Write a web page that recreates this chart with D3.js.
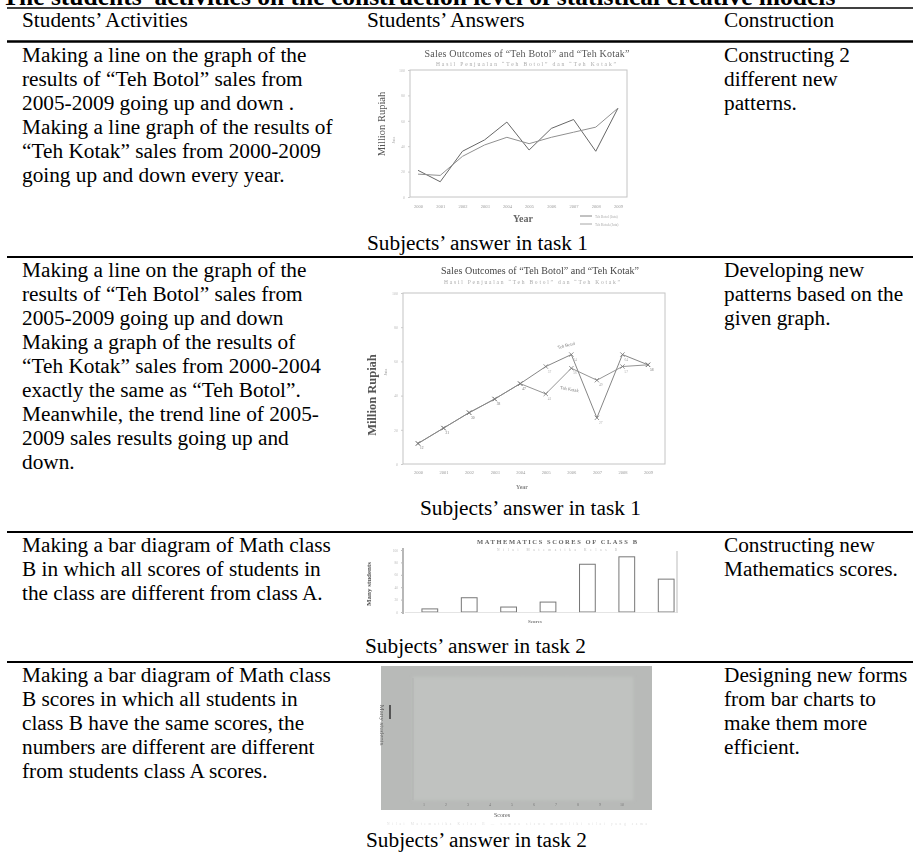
<!DOCTYPE html>
<html><head><meta charset="utf-8">
<script src="https://cdn.jsdelivr.net/npm/d3@7"></script>
<style>body{margin:0;background:#fff}svg{display:block}</style>
</head><body><svg id="c" width="913" height="861"></svg>
<script>
// ---------- data ----------
const titleText = "The students’ activities on the construction level of statistical creative models";
const headers = ["Students’ Activities", "Students’ Answers", "Construction"];
const activities = [
  ["Making a line on the graph of the", "results of “Teh Botol” sales from", "2005-2009  going up and down .", "Making a line graph of the results of", "“Teh Kotak” sales from 2000-2009", "going up and down every year."],
  ["Making a line on the graph of the", "results of “Teh Botol” sales from", "2005-2009 going up and down", "Making a graph of the results of", "“Teh Kotak” sales from 2000-2004", "exactly the same as “Teh Botol”.", "Meanwhile, the trend line of 2005-", "2009 sales results going up and", "down."],
  ["Making a bar diagram of Math class", "B in which all scores of students in", "the class are different from class A."],
  ["Making a bar diagram of Math class", "B scores in which all students in", "class B have the same scores, the", "numbers are different are different", "from students class A scores."]
];
const constructions = [
  ["Constructing 2", "different new", "patterns."],
  ["Developing new", "patterns based on the", "given graph."],
  ["Constructing new", "Mathematics scores."],
  ["Designing new forms", "from bar charts to", "make them more", "efficient."]
];
const captions = ["Subjects’ answer in task 1", "Subjects’ answer in task 1", "Subjects’ answer in task 2", "Subjects’ answer in task 2"];

const years = [2000, 2001, 2002, 2003, 2004, 2005, 2006, 2007, 2008, 2009];
const task1Botol = [21, 12, 36, 45, 59, 37, 54, 61, 36, 70];
const task1Kotak = [18, 17, 32, 41, 47, 42, 47, 51, 55, 70];
const task2Botol = [12, 21, 30, 38, 47, 57, 64, 27, 64, 58];
const task2Kotak = [12, 21, 30, 38, 47, 41, 56, 49, 57, 58];
const yTicks = [0, 20, 40, 60, 80, 100];
const classBScores = ["40", "45", "50", "55", "60", "65", "70"];
const classBCounts = [5, 23, 8, 16, 77, 89, 53];
const sameScores = ["1", "2", "3", "4", "5", "6", "7", "8", "9", "10"];
const sameCounts = [10, 10, 10, 10, 10, 10, 10, 10, 10, 10];

// ---------- layout ----------
const svg = d3.select("#c");
const serif = "'Liberation Serif','Times New Roman',serif";
const FS = 21.3, LH = 24;
const colX = [22, 367, 724];
const rowTop = [62, 277, 552, 682];
const capPos = [[367, 250], [420, 515], [365, 653], [366, 847]];
const rules = [[8, 1.5], [41.5, 2.5], [257, 2], [532, 2], [662, 2]];

const defs = svg.append("defs");
defs.append("filter").attr("id", "soft").append("feGaussianBlur").attr("stdDeviation", 0.55);
defs.append("filter").attr("id", "soft2").append("feGaussianBlur").attr("stdDeviation", 1.6);

svg.append("text").attr("x", 2).attr("y", 5).attr("font-family", serif).attr("font-weight", "bold")
  .attr("font-size", 25.5).text(titleText);

svg.selectAll("line.rule").data(rules).join("line").attr("class", "rule")
  .attr("x1", 7).attr("x2", 913).attr("y1", d => d[0]).attr("y2", d => d[0])
  .attr("stroke", "#000").attr("stroke-width", d => d[1]);

const txt = svg.append("g").attr("font-family", serif).attr("font-size", FS).attr("fill", "#000")
  .style("white-space", "pre");
txt.selectAll("text.h").data(headers).join("text").attr("class", "h")
  .attr("x", (d, i) => colX[i]).attr("y", 27).text(d => d);
activities.forEach((lines, r) => {
  txt.append("g").selectAll("text").data(lines).join("text")
    .attr("x", colX[0]).attr("y", (d, i) => rowTop[r] + i * LH).text(d => d);
});
constructions.forEach((lines, r) => {
  txt.append("g").selectAll("text").data(lines).join("text")
    .attr("x", colX[2]).attr("y", (d, i) => rowTop[r] + i * LH).text(d => d);
});
txt.selectAll("text.cap").data(captions).join("text").attr("class", "cap")
  .attr("x", (d, i) => capPos[i][0]).attr("y", (d, i) => capPos[i][1]).text(d => d);

// ---------- chart 1 ----------
(function () {
  const g = svg.append("g").attr("filter", "url(#soft)").attr("font-family", serif);
  const x = d3.scalePoint().domain(years).range([418, 618]);
  const y = d3.scaleLinear().domain([0, 100]).range([197, 70]);
  g.append("rect").attr("x", 410).attr("y", 70).attr("width", 217).attr("height", 127)
    .attr("fill", "none").attr("stroke", "#c4c4c4").attr("stroke-width", 1);
  g.append("text").attr("x", 527).attr("y", 57).attr("text-anchor", "middle").attr("font-size", 10)
    .attr("fill", "#555").attr("textLength", 205).text("Sales Outcomes of “Teh Botol” and “Teh Kotak”");
  g.append("text").attr("x", 526).attr("y", 66).attr("text-anchor", "middle").attr("font-size", 5.5)
    .attr("fill", "#aaa").attr("textLength", 180).text("Hasil Penjualan “Teh Botol” dan “Teh Kotak”");
  g.append("text").attr("transform", "translate(385,124) rotate(-90)").attr("text-anchor", "middle")
    .attr("font-size", 10.5).attr("fill", "#555").text("Million Rupiah");
  g.append("text").attr("transform", "translate(395,140) rotate(-90)").attr("text-anchor", "middle")
    .attr("font-size", 4).attr("fill", "#aaa").text("Juta");
  const ya = g.append("g").attr("transform", "translate(410,0)")
    .call(d3.axisLeft(y).tickValues(yTicks).tickSize(2));
  ya.select(".domain").remove();
  ya.selectAll("text").attr("font-size", 4).attr("fill", "#bbb").attr("font-family", serif);
  ya.selectAll("line").attr("stroke", "#ccc");
  const xa = g.append("g").attr("transform", "translate(0,202)")
    .call(d3.axisBottom(x).tickSize(0));
  xa.select(".domain").remove();
  xa.selectAll("text").attr("font-size", 4.5).attr("fill", "#999").attr("font-family", serif);
  g.append("text").attr("x", 523).attr("y", 222).attr("text-anchor", "middle").attr("font-size", 10)
    .attr("font-weight", "bold").attr("fill", "#666").text("Year");
  const line = d3.line().x((d, i) => x(years[i])).y(d => y(d));
  [[task1Botol, "#666"], [task1Kotak, "#909090"]].forEach(([s, c]) => {
    g.append("path").attr("d", line(s)).attr("fill", "none").attr("stroke", c).attr("stroke-width", 1);
  });
  const lg = g.append("g").attr("font-size", 3.5).attr("fill", "#aaa");
  [["Teh Botol", 216, "#666"], ["Teh Kotak", 224, "#909090"]].forEach(([t, yy, c]) => {
    lg.append("line").attr("x1", 580).attr("x2", 592).attr("y1", yy).attr("y2", yy).attr("stroke", c).attr("stroke-width", 0.8);
    lg.append("text").attr("x", 595).attr("y", yy + 1.5).text(t + " (Juta)");
  });
})();

// ---------- chart 2 ----------
(function () {
  const g = svg.append("g").attr("filter", "url(#soft)").attr("font-family", serif);
  const x = d3.scalePoint().domain(years).range([418, 648]);
  const y = d3.scaleLinear().domain([0, 100]).range([464, 293]);
  g.append("rect").attr("x", 403).attr("y", 293).attr("width", 262).attr("height", 171)
    .attr("fill", "none").attr("stroke", "#c4c4c4").attr("stroke-width", 1);
  g.append("text").attr("x", 540).attr("y", 274).attr("text-anchor", "middle").attr("font-size", 10)
    .attr("fill", "#444").attr("textLength", 198).text("Sales Outcomes of “Teh Botol” and “Teh Kotak”");
  g.append("text").attr("x", 532).attr("y", 284).attr("text-anchor", "middle").attr("font-size", 5.5)
    .attr("fill", "#aaa").attr("textLength", 176).text("Hasil Penjualan “Teh Botol” dan “Teh Kotak”");
  g.append("text").attr("transform", "translate(376,395) rotate(-90)").attr("text-anchor", "middle")
    .attr("font-size", 12.5).attr("font-weight", "bold").attr("fill", "#555").text("Million Rupiah");
  g.append("text").attr("transform", "translate(387,372) rotate(-90)").attr("text-anchor", "middle")
    .attr("font-size", 4).attr("fill", "#999").text("Juta");
  const ya = g.append("g").attr("transform", "translate(403,0)")
    .call(d3.axisLeft(y).tickValues(yTicks).tickSize(2));
  ya.select(".domain").remove();
  ya.selectAll("text").attr("font-size", 4).attr("fill", "#bbb").attr("font-family", serif);
  ya.selectAll("line").attr("stroke", "#ccc");
  const xa = g.append("g").attr("transform", "translate(0,468)")
    .call(d3.axisBottom(x).tickSize(0));
  xa.select(".domain").remove();
  xa.selectAll("text").attr("font-size", 4.5).attr("fill", "#999").attr("font-family", serif);
  g.append("text").attr("x", 522).attr("y", 489).attr("text-anchor", "middle").attr("font-size", 6)
    .attr("font-weight", "bold").attr("fill", "#888").text("Year");
  const line = d3.line().x((d, i) => x(years[i])).y(d => y(d));
  const sym = d3.symbol(d3.symbolTimes, 14);
  [[task2Botol, "#777"], [task2Kotak, "#888"]].forEach(([s, c]) => {
    g.append("path").attr("d", line(s)).attr("fill", "none").attr("stroke", c).attr("stroke-width", 0.9);
    g.append("g").selectAll("path").data(s).join("path").attr("d", sym)
      .attr("transform", (d, i) => `translate(${x(years[i])},${y(d)})`)
      .attr("fill", "none").attr("stroke", "#777").attr("stroke-width", 0.8);
    g.append("g").selectAll("text").data(s).join("text")
      .attr("x", (d, i) => x(years[i]) + 2).attr("y", d => y(d) + 6)
      .attr("font-size", 3.5).attr("fill", "#aaa").text(d => d);
  });
  g.append("text").attr("transform", "translate(558,349) rotate(-14)").attr("font-size", 4.5)
    .attr("fill", "#777").text("Teh Botol");
  g.append("text").attr("transform", "translate(560,389) rotate(10)").attr("font-size", 4.5)
    .attr("fill", "#777").text("Teh Kotak");
})();

// ---------- chart 3 ----------
(function () {
  const g = svg.append("g").attr("filter", "url(#soft)").attr("font-family", serif);
  const x = d3.scaleBand().domain(classBScores).range([418, 678]).paddingInner(0.6).paddingOuter(0.1);
  const y = d3.scaleLinear().domain([0, 100]).range([612, 550]);
  g.append("line").attr("x1", 403).attr("x2", 403).attr("y1", 548).attr("y2", 614)
    .attr("stroke", "#888").attr("stroke-width", 1.2);
  g.append("line").attr("x1", 677).attr("x2", 677).attr("y1", 551).attr("y2", 613)
    .attr("stroke", "#aaa").attr("stroke-width", 0.8);
  g.append("text").attr("x", 557).attr("y", 544).attr("text-anchor", "middle").attr("font-size", 6.5)
    .attr("font-weight", "bold").attr("fill", "#666").attr("textLength", 160).text("MATHEMATICS SCORES OF CLASS B");
  g.append("text").attr("x", 557).attr("y", 551).attr("text-anchor", "middle").attr("font-size", 3.5)
    .attr("fill", "#bbb").attr("textLength", 120).text("Nilai Matematika Kelas B");
  g.append("text").attr("transform", "translate(371,584) rotate(-90)").attr("text-anchor", "middle")
    .attr("font-size", 7).attr("font-weight", "bold").attr("fill", "#555").text("Many students");
  const ya = g.append("g").attr("transform", "translate(403,0)")
    .call(d3.axisLeft(y).tickValues(yTicks).tickSize(2));
  ya.select(".domain").remove();
  ya.selectAll("text").attr("font-size", 3.5).attr("fill", "#bbb").attr("font-family", serif);
  ya.selectAll("line").attr("stroke", "#bbb");
  g.append("text").attr("x", 535).attr("y", 623).attr("text-anchor", "middle").attr("font-size", 5)
    .attr("font-weight", "bold").attr("fill", "#777").text("Scores");
  g.selectAll("rect.bar").data(classBCounts).join("rect").attr("class", "bar")
    .attr("x", (d, i) => x(classBScores[i])).attr("width", x.bandwidth())
    .attr("y", d => y(d)).attr("height", d => y(0) - y(d))
    .attr("fill", "none").attr("stroke", "#777").attr("stroke-width", 1);
  g.append("line").attr("x1", 405).attr("x2", 677).attr("y1", 612.5).attr("y2", 612.5)
    .attr("stroke", "#ddd").attr("stroke-width", 0.8);
})();

// ---------- chart 4 ----------
(function () {
  const g = svg.append("g").attr("font-family", serif);
  const x = d3.scaleBand().domain(sameScores).range([413, 633]).padding(0);
  const y = d3.scaleLinear().domain([0, 10]).range([800, 677]);
  g.append("rect").attr("x", 381).attr("y", 666).attr("width", 271).attr("height", 144)
    .attr("fill", "#b8bab8").attr("filter", "url(#soft)");
  g.append("g").attr("filter", "url(#soft2)").selectAll("rect").data(sameCounts).join("rect")
    .attr("x", (d, i) => x(sameScores[i])).attr("width", x.bandwidth())
    .attr("y", d => y(d)).attr("height", d => y(0) - y(d))
    .attr("fill", "#c0c2c0").attr("stroke", "#bfc1bf").attr("stroke-width", 0.5);
  const gg = g.append("g").attr("filter", "url(#soft)");
  gg.append("line").attr("x1", 413).attr("x2", 413).attr("y1", 678).attr("y2", 800)
    .attr("stroke", "#aeb0ae").attr("stroke-width", 0.8);
  gg.append("text").attr("transform", "translate(380,725) rotate(90)").attr("text-anchor", "middle")
    .attr("font-size", 7).attr("fill", "#666").text("Many students");
  gg.append("rect").attr("x", 389).attr("y", 705).attr("width", 2).attr("height", 14).attr("fill", "#555");
  const xa = gg.append("g").attr("transform", "translate(0,800)").call(d3.axisBottom(x).tickSize(0));
  xa.select(".domain").remove();
  xa.selectAll("text").attr("font-size", 4).attr("fill", "#777").attr("font-family", serif);
  gg.append("text").attr("x", 502).attr("y", 817).attr("text-anchor", "middle").attr("font-size", 6)
    .attr("fill", "#555").text("Scores");
  gg.append("text").attr("x", 517).attr("y", 825).attr("text-anchor", "middle").attr("font-size", 3.5)
    .attr("fill", "#ddd").attr("textLength", 260).text("Nilai Matematika Kelas B — semua siswa memiliki nilai yang sama");
})();
</script></body></html>
